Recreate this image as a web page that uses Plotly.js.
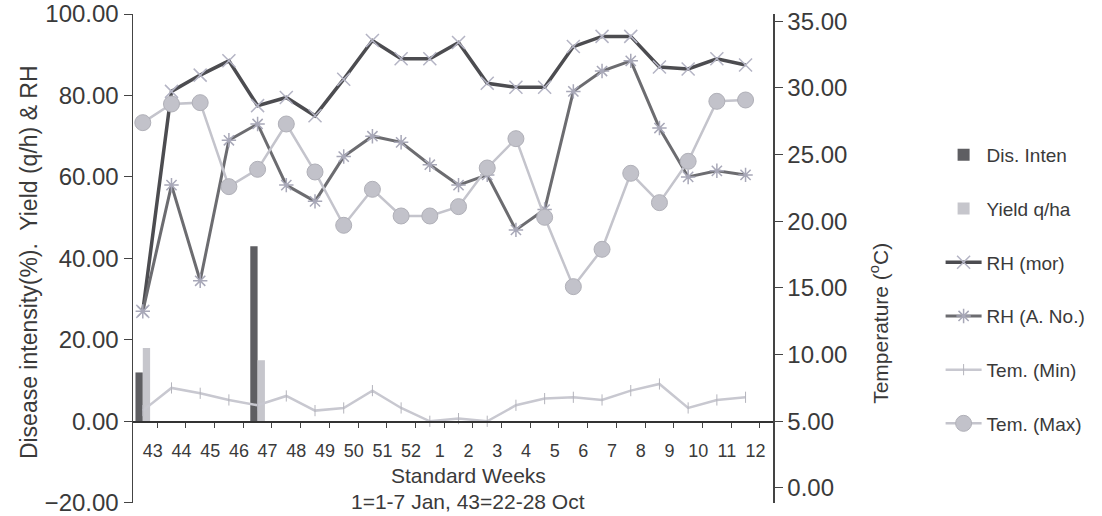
<!DOCTYPE html>
<html>
<head>
<meta charset="utf-8">
<script src="https://cdn.plot.ly/plotly-3.0.1.min.js"></script>
<style>html,body{margin:0;padding:0;background:#fff;}#chart{width:1102px;height:516px;}</style>
</head>
<body>
<div id="chart"></div>
<script>
// Standard weeks (categories)
const weeks = ['43','44','45','46','47','48','49','50','51','52','1','2','3','4','5','6','7','8','9','10','11','12'];
// Disease intensity (%) and yield (q/ha) — left axis
const disInten = [12, null, null, null, 43, null, null, null, null, null, null, null, null, null, null, null, null, null, null, null, null, null];
const yieldQha = [18, null, null, null, 15, null, null, null, null, null, null, null, null, null, null, null, null, null, null, null, null, null];
// Relative humidity (%) — left axis
const rhMor = [27, 81, 85, 88.5, 77.5, 79.5, 75, 84, 93.5, 89, 89, 93, 83, 82, 82, 92, 94.5, 94.5, 87, 86.5, 89, 87.5];
const rhANo = [27, 58, 34.5, 69, 73, 58, 54, 65, 70, 68.5, 63, 58, 60.5, 47, 52, 81, 86, 88.5, 72, 60, 61.5, 60.5];
// Temperature (°C) — right axis
const temMin = [5.8, 7.5, 7.1, 6.6, 6.2, 6.9, 5.8, 6.0, 7.3, 6.0, 5.0, 5.2, 5.0, 6.2, 6.7, 6.8, 6.6, 7.3, 7.8, 6.0, 6.6, 6.8];
const temMax = [27.4, 28.8, 28.9, 22.6, 23.9, 27.3, 23.7, 19.7, 22.4, 20.4, 20.4, 21.1, 24.0, 26.2, 20.3, 15.1, 17.9, 23.6, 21.4, 24.5, 29.0, 29.1];

const FONT = 'Liberation Sans, Arial, sans-serif';
const TXT = '#3a3a3a';

const traces = [
  {type:'bar', name:'Dis. Inten', x:weeks, y:disInten, yaxis:'y', legendgroup:'a',
   marker:{color:'#5e5e62', line:{width:0}}},
  {type:'bar', name:'Yield q/ha', x:weeks, y:yieldQha, yaxis:'y', legendgroup:'b',
   marker:{color:'#c6c6cc', line:{width:0}}},
  {type:'scatter', mode:'lines+markers', name:'RH (mor)', x:weeks, y:rhMor, yaxis:'y', legendgroup:'c',
   line:{color:'#4c4c50', width:3.5},
   marker:{symbol:'x-thin', size:13, line:{color:'#b4b4c4', width:1.5}}},
  {type:'scatter', mode:'lines+markers', name:'RH (A. No.)', x:weeks, y:rhANo, yaxis:'y', legendgroup:'d',
   line:{color:'#6c6c70', width:3},
   marker:{symbol:'asterisk', size:12, line:{color:'#a8a8b8', width:1.5}}},
  {type:'scatter', mode:'lines+markers', name:'Tem. (Min)', x:weeks, y:temMin, yaxis:'y2', legendgroup:'e',
   line:{color:'#c8c8d0', width:2.5},
   marker:{symbol:'line-ns', size:8, line:{color:'#b4b4bc', width:1}}},
  {type:'scatter', mode:'lines+markers', name:'Tem. (Max)', x:weeks, y:temMax, yaxis:'y2', legendgroup:'f',
   line:{color:'#c4c4cc', width:2.5},
   marker:{symbol:'circle', size:16, color:'#c2c2ca', line:{color:'#b0b0b8', width:1}}}
];

const W = 653, L = 133, T = 14, B = 503, H = B - T;
const px = v => (v - L) / W;
const py = v => (B - v) / H;
const leftMin = -20.05, leftMax = 100;

const layout = {
  width:1102, height:516,
  margin:{l:L, r:1102-786, t:T, b:516-B, pad:0},
  paper_bgcolor:'#fff', plot_bgcolor:'#fff',
  font:{family:FONT, color:TXT},
  barmode:'group', bargap:0.49, bargroupgap:0,
  showlegend:true,
  legend:{x:px(957), xanchor:'left', y:py(136), yanchor:'top',
    font:{family:FONT, size:19, color:TXT}, tracegroupgap:26, itemwidth:36,
    bgcolor:'rgba(0,0,0,0)', borderwidth:0},
  xaxis:{type:'category', categoryorder:'array', categoryarray:weeks,
    range:[-0.341, 21.956], anchor:'free', position:-leftMin/(leftMax-leftMin),
    showline:true, linecolor:'#333', linewidth:1.5,
    ticks:'outside', tickson:'boundaries', ticklen:5, tickcolor:'#444', tickwidth:1,
    showgrid:false, zeroline:false, tickangle:0,
    ticklabelshift:10, ticklabelstandoff:13,
    tickfont:{family:FONT, size:18, color:TXT}},
  yaxis:{range:[leftMin, leftMax], dtick:20, tick0:0, tickformat:'.2f',
    showline:true, linecolor:'#444', linewidth:1.5,
    ticks:'outside', ticklen:8, tickcolor:'#444', ticklabeloverflow:'allow',
    showgrid:false, zeroline:false,
    tickfont:{family:FONT, size:24, color:TXT}},
  yaxis2:{range:[-1.13, 35.55], dtick:5, tick0:0, tickformat:'.2f', overlaying:'y', side:'right',
    showline:true, linecolor:'#444', linewidth:1.5,
    ticks:'outside', ticklen:8, tickcolor:'#444', ticklabeloverflow:'allow',
    showgrid:false, zeroline:false,
    tickfont:{family:FONT, size:24, color:TXT}},
  annotations:[
    {text:'Standard Weeks', xref:'paper', yref:'paper', x:px(475), y:py(475), xanchor:'center', yanchor:'middle',
     showarrow:false, font:{family:FONT, size:21, color:TXT}},
    {text:'1=1-7 Jan, 43=22-28 Oct', xref:'paper', yref:'paper', x:px(475), y:py(501), xanchor:'center', yanchor:'middle',
     showarrow:false, font:{family:FONT, size:21, color:TXT}},
    {text:'Disease intensity(%).  Yield (q/h) & RH', xref:'paper', yref:'paper', x:px(27), y:py(262),
     xanchor:'center', yanchor:'middle', textangle:-90, showarrow:false, font:{family:FONT, size:23, color:TXT}},
    {text:'Temperature (<sup>o</sup>C)', xref:'paper', yref:'paper', x:px(894), y:py(323),
     xanchor:'center', yanchor:'middle', textangle:-90, showarrow:false, font:{family:FONT, size:21, color:TXT}}
  ]
};

Plotly.newPlot('chart', traces, layout, {displayModeBar:false, staticPlot:true});
</script>
</body>
</html>
